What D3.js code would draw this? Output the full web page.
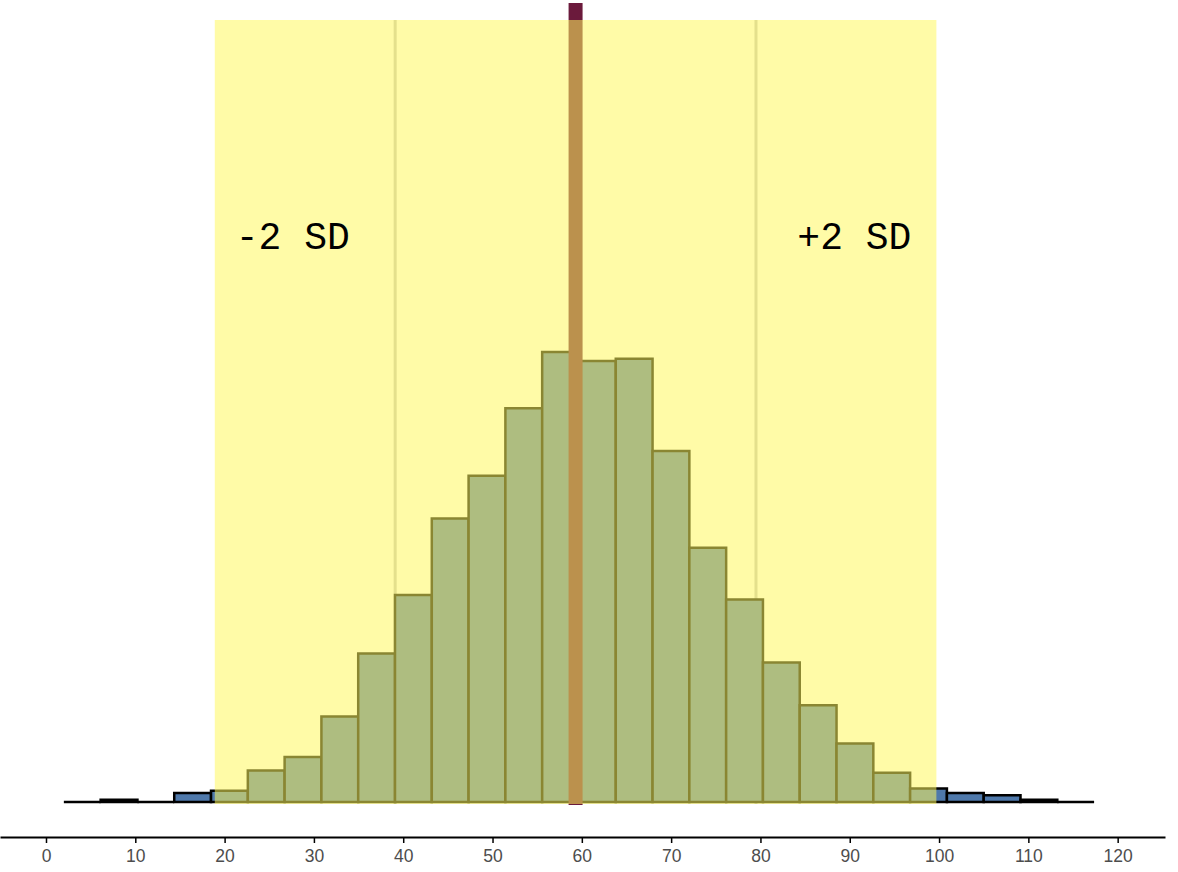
<!DOCTYPE html>
<html>
<head>
<meta charset="utf-8">
<script src="https://cdn.jsdelivr.net/npm/d3@7"></script>
<style>
  html, body { margin: 0; padding: 0; background: #ffffff; }
  svg { display: block; }
</style>
</head>
<body>
<svg id="chart" width="1178" height="872"></svg>
<script>
// ---- data ----
const binStart = 2.0;          // left edge of first bin
const binWidth = 4.12;         // width of each bin
const counts = [0, 1, 0, 4, 5, 14, 20, 38, 66, 92, 126, 145, 175, 200,
                196, 197, 156, 113, 90, 62, 43, 26, 13, 6, 4, 3, 1, 0];
const meanValue = 59.3;
const sdValue = 20.2;
const tickValues = [0, 10, 20, 30, 40, 50, 60, 70, 80, 90, 100, 110, 120];
const bandLabels = ["-2 SD", "+2 SD"];

// ---- layout ----
const baseY = 802, axisY = 837;
const svg = d3.select("#chart");

const x = d3.scaleLinear().domain([-5.15, 125.3]).range([0, 1165]);
const y = d3.scaleLinear().domain([0, 200]).range([baseY, baseY - 450]);

const bins = counts.map((c, i) => ({
  x0: binStart + i * binWidth,
  x1: binStart + (i + 1) * binWidth,
  count: c
}));

const lo2 = meanValue - 2 * sdValue, hi2 = meanValue + 2 * sdValue;
const lo1 = meanValue - sdValue, hi1 = meanValue + sdValue;
const bandTop = 20, bandBottom = 804;

// ±1 SD faint lines
svg.selectAll("line.sd1")
  .data([lo1, hi1])
  .join("line")
  .attr("class", "sd1")
  .attr("x1", d => x(d)).attr("x2", d => x(d))
  .attr("y1", bandTop).attr("y2", bandBottom)
  .attr("stroke", "#c4c4c4")
  .attr("stroke-width", 3);

// histogram bars (paths so that empty bins still show as a baseline stroke)
svg.selectAll("path.bar")
  .data(bins)
  .join("path")
  .attr("class", "bar")
  .attr("d", d => {
    const x0 = x(d.x0), x1 = x(d.x1), y0 = y(0), y1 = y(d.count);
    return `M${x0},${y0}V${y1}H${x1}V${y0}Z`;
  })
  .attr("fill", "#4f79ab")
  .attr("stroke", "#000000")
  .attr("stroke-width", 2.5)
  .attr("stroke-linejoin", "miter");

// mean line
svg.append("line")
  .attr("x1", x(meanValue)).attr("x2", x(meanValue))
  .attr("y1", 3).attr("y2", 805)
  .attr("stroke", "#6b1a3c")
  .attr("stroke-width", 14);

// ±2 SD band overlay
svg.append("rect")
  .attr("x", x(lo2))
  .attr("width", x(hi2) - x(lo2))
  .attr("y", bandTop)
  .attr("height", bandBottom - bandTop)
  .attr("fill", "rgb(255,248,92)")
  .attr("fill-opacity", 0.54);

// band labels
const labelFont = "'Liberation Mono', 'DejaVu Sans Mono', monospace";
svg.append("text")
  .attr("x", x(lo2) + 21)
  .attr("y", 249)
  .attr("font-family", labelFont)
  .attr("font-size", 38)
  .attr("fill", "#000")
  .attr("text-anchor", "start")
  .text(bandLabels[0]);

svg.append("text")
  .attr("x", x(hi2) - 25)
  .attr("y", 249)
  .attr("font-family", labelFont)
  .attr("font-size", 38)
  .attr("fill", "#000")
  .attr("text-anchor", "end")
  .text(bandLabels[1]);

// x axis
const axis = d3.axisBottom(x)
  .tickValues(tickValues)
  .tickSizeInner(6)
  .tickSizeOuter(0)
  .tickPadding(7);

const gAxis = svg.append("g")
  .attr("transform", `translate(0,${axisY})`)
  .call(axis);
gAxis.select(".domain").attr("stroke", "#000").attr("stroke-width", 2);
gAxis.selectAll(".tick line").attr("stroke", "#000").attr("stroke-width", 1.5);
gAxis.selectAll(".tick text")
  .attr("fill", "#4d4d4d")
  .attr("font-family", "'Liberation Sans', Arial, Helvetica, sans-serif")
  .attr("font-size", 17.5);
</script>
</body>
</html>
